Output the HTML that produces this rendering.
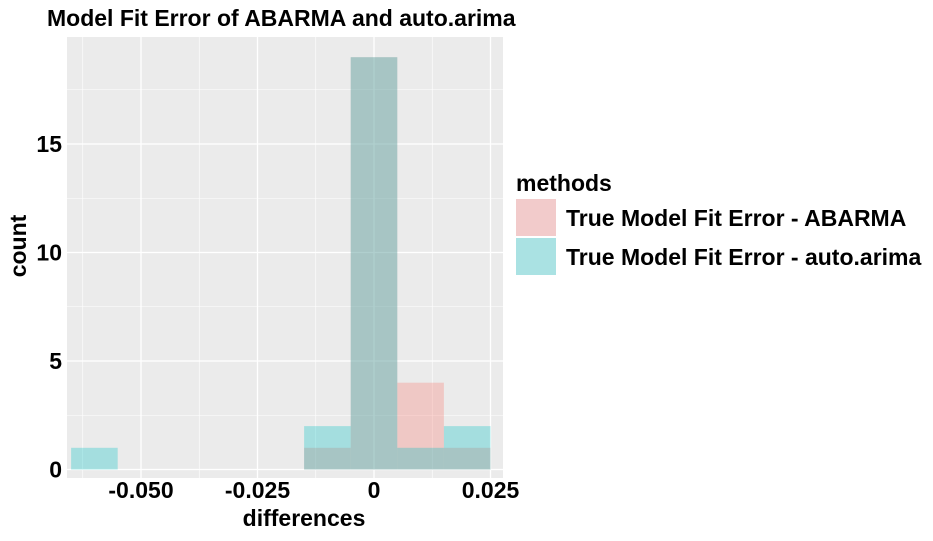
<!DOCTYPE html>
<html><head><meta charset="utf-8"><style>
body{margin:0;background:#fff;}
text{font-family:"Liberation Sans",sans-serif;font-weight:bold;}
</style></head><body>
<svg id="chart" width="933" height="536" xmlns="http://www.w3.org/2000/svg">
<text x="47" y="26" font-size="23" fill="#000">Model Fit Error of ABARMA and auto.arima</text>
<rect x="67" y="37" width="436" height="441" fill="#EBEBEB"/>
<g id="grid"></g>
<g id="bars"></g>
<g id="axes"></g>
<text x="304" y="526" font-size="23" text-anchor="middle">differences</text>
<text transform="translate(26,246) rotate(-90)" font-size="23" text-anchor="middle">count</text>
<g>
<text x="516" y="191" font-size="23">methods</text>
<rect x="516" y="199" width="40" height="37" fill="#F2CBCB"/>
<rect x="516" y="238" width="40" height="37" fill="#AAE2E3"/>
<text x="566" y="226" font-size="23">True Model Fit Error - ABARMA</text>
<text x="566" y="265" font-size="23">True Model Fit Error - auto.arima</text>
</g>
</svg>
<script>
const binCenters=[-0.06,-0.05,-0.04,-0.03,-0.02,-0.01,0,0.01,0.02];
const abarmaCounts=[0,0,0,0,0,1,19,4,1];
const autoArimaCounts=[1,0,0,0,0,2,19,1,2];
const xTicks=[-0.05,-0.025,0,0.025];
const xTickLabels=["-0.050","-0.025","0","0.025"];
const yTicks=[0,5,10,15];
const yTickLabels=["0","5","10","15"];
const binWidth=0.01;
const NS="http://www.w3.org/2000/svg";
function xs(v){return 374+v*4660;}
function ys(v){return 469.5-v*21.7;}
function mk(tag,attrs,parent){const e=document.createElementNS(NS,tag);for(const k in attrs)e.setAttribute(k,attrs[k]);parent.appendChild(e);return e;}
const grid=document.getElementById('grid'),bars=document.getElementById('bars'),axes=document.getElementById('axes');
const L=67,R=503,T=37,B=478;
for(let i=0;i<yTicks.length;i++){
  const m=yTicks[i]+2.5;
  if(ys(m)>T){const g=mk('line',{x1:L,x2:R,y1:ys(m),y2:ys(m),stroke:'#fff','stroke-width':0.6},grid);
  
  }
  const l=mk('line',{x1:L,x2:R,y1:ys(yTicks[i]),y2:ys(yTicks[i]),stroke:'#fff','stroke-width':1.3},grid);
  
  
  const t=mk('text',{x:62,y:ys(yTicks[i])+8,'font-size':23,'text-anchor':'end'},axes);t.textContent=yTickLabels[i];
  
  
}
const xm=[xTicks[0]-0.0125].concat(xTicks.map(v=>v+0.0125));
xm.forEach(m=>{if(xs(m)>L&&xs(m)<R){const g=mk('line',{x1:xs(m),x2:xs(m),y1:T,y2:B,stroke:'#fff','stroke-width':0.6},grid);
  
  }});
for(let i=0;i<xTicks.length;i++){
  const l=mk('line',{x1:xs(xTicks[i]),x2:xs(xTicks[i]),y1:T,y2:B,stroke:'#fff','stroke-width':1.3},grid);
  
  
  const t=mk('text',{x:xs(xTicks[i]),y:498,'font-size':23,'text-anchor':'middle'},axes);t.textContent=xTickLabels[i];
  
  
}
function drawSeries(counts,color,name){
  counts.forEach((c,i)=>{if(c<=0)return;
    const x0=xs(binCenters[i]-binWidth/2),x1=xs(binCenters[i]+binWidth/2);
    const r=mk('rect',{x:x0,y:ys(c),width:x1-x0,height:ys(0)-ys(c),fill:color,'fill-opacity':0.3},bars);
    
    });
}
drawSeries(abarmaCounts,'#F8766D','bar-abarma');
drawSeries(autoArimaCounts,'#00BFC4','bar-autoarima');
</script>
</body></html>
